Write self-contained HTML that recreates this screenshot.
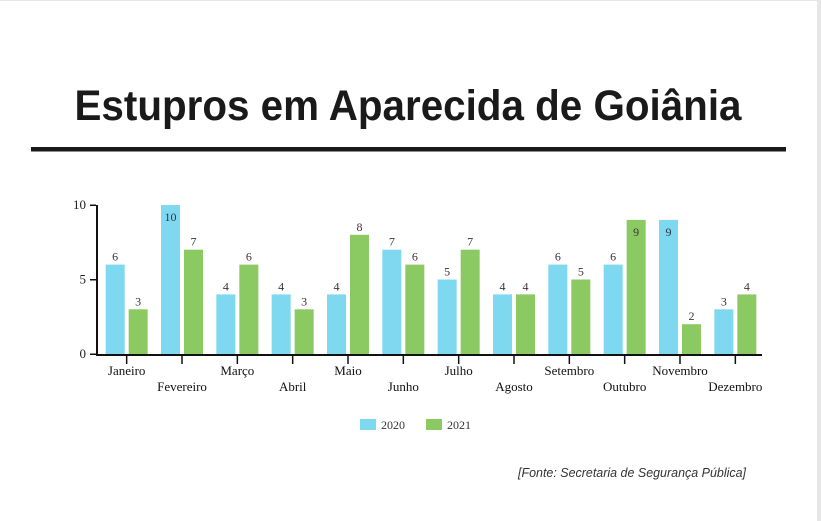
<!DOCTYPE html>
<html><head><meta charset="utf-8"><style>
html,body{margin:0;padding:0;background:#e6e6e6;}
#wrap{position:absolute;left:0;top:1px;width:817px;height:520px;background:#fff;}
svg{position:absolute;left:0;top:0;}
</style></head><body>
<div id="wrap"></div>
<svg id="chart" width="821" height="521">
<text x="408" y="120" text-anchor="middle" textLength="667" lengthAdjust="spacingAndGlyphs" font-family="Liberation Sans, sans-serif" font-weight="bold" font-size="43" fill="#1a1a1a">Estupros em Aparecida de Goiânia</text>
<rect x="31" y="147" width="755" height="4.5" fill="#1a1a1a"/>
<g id="plot"></g>
<rect x="360" y="419" width="16" height="11" fill="#7dd8f0"/>
<text x="381" y="429" font-family="Liberation Serif, serif" font-size="12" fill="#333">2020</text>
<rect x="426" y="419" width="16" height="11" fill="#8bc963"/>
<text x="447" y="429" font-family="Liberation Serif, serif" font-size="12" fill="#333">2021</text>
<text x="518" y="477" textLength="228" lengthAdjust="spacingAndGlyphs" font-family="Liberation Sans, sans-serif" font-style="italic" font-size="13" fill="#333">[Fonte: Secretaria de Segurança Pública]</text>
</svg>
<script>
const categories=["Janeiro","Fevereiro","Março","Abril","Maio","Junho","Julho","Agosto","Setembro","Outubro","Novembro","Dezembro"];
const values2020=[6,10,4,4,4,7,5,4,6,6,9,3];
const values2021=[3,7,6,3,8,6,7,4,5,9,2,4];
const yTicks=[0,5,10];
const NS="http://www.w3.org/2000/svg";
const g=document.getElementById('plot');
const x0=98,x1=762,y0=354,yTop=205,yMax=10;
const step=(x1-x0)/categories.length;
function yScale(v){return y0-(y0-yTop)*v/yMax;}
function xCenter(i){return x0+step*(i+0.5)+1;}
function mk(tag,attrs){const e=document.createElementNS(NS,tag);for(const k in attrs)e.setAttribute(k,attrs[k]);g.appendChild(e);return e;}
function txt(x,y,s,size,fill,anchor){const t=mk('text',{x:x,y:y,'font-family':'Liberation Serif, serif','font-size':size,fill:fill,'text-anchor':anchor});t.textContent=s;return t;}
let ax=mk('rect',{x:x0-2,y:yTop,width:2,height:y0-yTop+1,fill:'#111'});


yTicks.forEach(v=>{
  const y=yScale(v);
  const tk=mk('rect',{x:x0-8,y:y-0.5,width:6,height:1.5,fill:'#111'});
  
  
  const tl=txt(x0-12,y+4,String(v),13,'#222','end');
  
  
});
let xa=mk('rect',{x:x0-2,y:y0,width:x1-x0+2,height:2,fill:'#111'});


const bw=19;
categories.forEach((c,i)=>{
  const cx=xCenter(i);
  [[values2020[i],cx-21,'#7dd8f0','#334'],[values2021[i],cx+2,'#8bc963','#433']].forEach((d,j)=>{
    const v=d[0],y=yScale(v);
    const b=mk('rect',{x:d[1],y:y,width:bw,height:y0-y,fill:d[2]});
    
    
    const inside=v>=9;
    const l=txt(d[1]+bw/2,inside?y+16:y-4,String(v),12,d[3],'middle');
    
    
  });
  const tk=mk('rect',{x:cx-0.75,y:y0+2,width:1.5,height:8,fill:'#111'});
  
  
  const lb=txt(cx,i%2?391:375,c,13,'#111','middle');
  
  
});
</script>
</body></html>
